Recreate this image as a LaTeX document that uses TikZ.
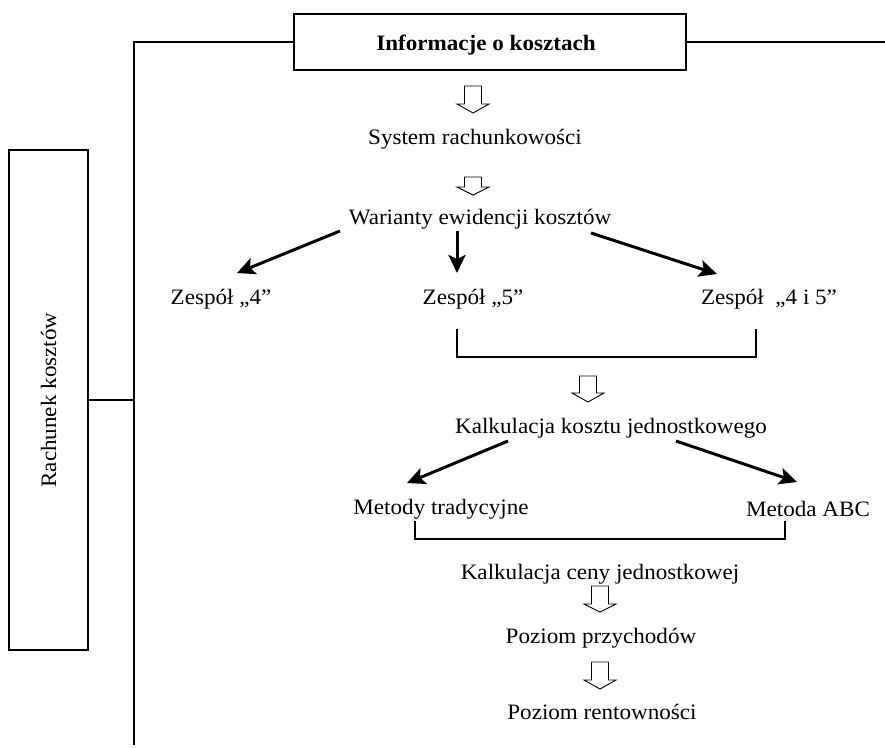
\documentclass[tikz,border=0pt]{standalone}
\usepackage{fontspec}
\setmainfont{Liberation Serif}[FakeStretch=1.05]
\usetikzlibrary{arrows.meta,calc}
\newcommand{\hollowArr}[4]{% x, top, headbase, tip
  \draw[line width=0.9pt,line join=miter,fill=white]
    ({#1-8.5},#2) -- ({#1-8.5},#3) -- ({#1-16},#3) -- (#1,#4) -- ({#1+16},#3) -- ({#1+8.5},#3) -- ({#1+8.5},#2) -- cycle;}
\begin{document}
\begin{tikzpicture}[x=1pt,y=-1pt,
  lbl/.style={inner sep=0pt,anchor=base,font=\fontsize{22}{26}\selectfont},
  boxline/.style={line width=1.2pt},
  thin/.style={line width=1.1pt},
  bigarrow/.style={line width=3pt,-{Stealth[length=18pt,width=17pt,inset=4pt]}}
]
\useasboundingbox (0,0) rectangle (885,747);
% top box
\node[boxline,draw,minimum width=392pt,minimum height=56pt,inner sep=0pt] (info) at (490,42) {};
\node[lbl,font=\fontsize{22}{26}\selectfont\bfseries] (infotxt) at (486,50) {Informacje o kosztach};
% left box
\node[boxline,draw,minimum width=79pt,minimum height=500pt,inner sep=0pt] (rach) at (48.5,400) {};
\node[inner sep=0pt,rotate=90,font=\fontsize{22}{26}\selectfont] (rachtxt) at (rach.center) {Rachunek kosztów};
\coordinate (tl) at (134,42);
\coordinate (bl) at (134,745);
\coordinate (tr) at (885,42);
\coordinate (lj) at (134,400);
\draw[thin] (info.west) -- (tl) -- (bl);
\draw[thin] (info.east) -- (tr);
\draw[thin] (rach.east |- lj) -- (lj);
% flow
\hollowArr{473}{86}{104}{113}
\node[lbl] (sys) at (475,144) {System rachunkowości};
\hollowArr{473}{177}{187}{195}
\node[lbl] (war) at (480,224) {Warianty ewidencji kosztów};
\node[lbl] (z4) at (221,304) {Zespół „4”};
\node[lbl] (z5) at (473,304) {Zespół „5”};
\node[lbl] (z45) at (769,304) {Zespół \ „4 i 5”};
\coordinate (a1s) at (340,231); \coordinate (a1e) at (237,273);
\coordinate (a2s) at (457,231); \coordinate (a2e) at (457,273);
\coordinate (a3s) at (591,233); \coordinate (a3e) at (717,274);
\draw[bigarrow] (a1s) -- (a1e);
\draw[bigarrow] (a2s) -- (a2e);
\draw[bigarrow] (a3s) -- (a3e);
% bracket 1
\coordinate (b1a) at (457,329); \coordinate (b1b) at (457,357);
\coordinate (b1c) at (756,357); \coordinate (b1d) at (756,329);
\draw[thin] (b1a) -- (b1b) -- (b1c) -- (b1d);
\hollowArr{588}{376}{393}{402}
\node[lbl] (kkj) at (611,433) {Kalkulacja kosztu jednostkowego};
\coordinate (a4s) at (508,441); \coordinate (a4e) at (407,483);
\coordinate (a5s) at (676,441); \coordinate (a5e) at (797,482);
\draw[bigarrow] (a4s) -- (a4e);
\draw[bigarrow] (a5s) -- (a5e);
\node[lbl] (mt) at (441,514) {Metody tradycyjne};
\node[lbl] (abc) at (808,516) {Metoda ABC};
% bracket 2
\coordinate (b2a) at (415,521); \coordinate (b2b) at (415,539);
\coordinate (b2c) at (785,539); \coordinate (b2d) at (785,521);
\draw[thin] (b2a) -- (b2b) -- (b2c) -- (b2d);
\node[lbl] (kcj) at (600,579) {Kalkulacja ceny jednostkowej};
\hollowArr{600}{586}{604}{612}
\node[lbl] (pp) at (601,643) {Poziom przychodów};
\hollowArr{600}{662}{680}{689}
\node[lbl] (pr) at (602,719) {Poziom rentowności};
\end{tikzpicture}
\end{document}
